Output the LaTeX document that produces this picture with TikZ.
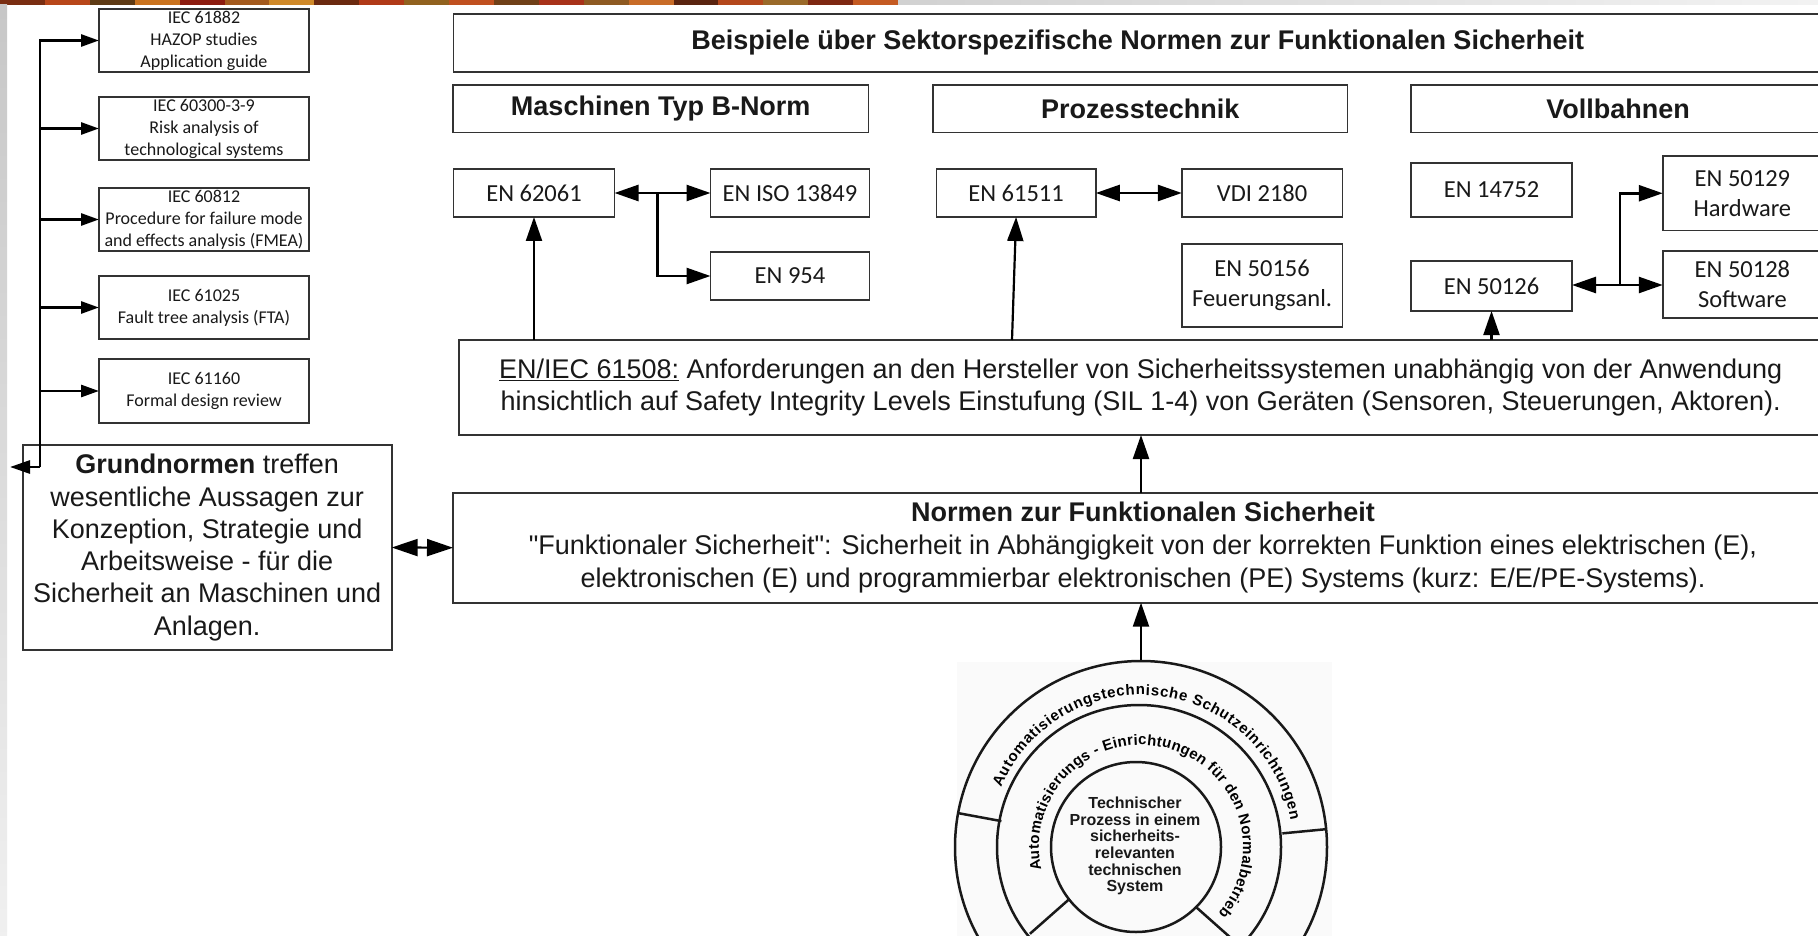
\documentclass[tikz,border=0pt]{standalone}
\usepackage{fontspec}
\setmainfont{Liberation Sans}[Ligatures=TeXOff]
\newfontfamily\carlito{Carlito}
\usetikzlibrary{arrows.meta,decorations.text,calc}

\newcommand\ringfont{\bfseries\fontsize{15}{15}\selectfont}

\tikzset{
  frame/.style={draw=black!80, line width=1.8pt, inner sep=0pt, outer sep=0pt, align=center, text=black!90},
  iecbox/.style={frame, font=\carlito\fontsize{18}{22}\selectfont, minimum width=210pt, minimum height=63pt},
  enbox/.style={frame, font=\carlito\fontsize{24.5}{30}\selectfont, minimum width=160pt, minimum height=48pt},
  headbox/.style={frame, font=\bfseries\fontsize{27}{31}\selectfont, minimum height=47.5pt},
  textbox/.style={frame, font=\fontsize{27}{31.5}\selectfont},
  conn/.style={line width=2.2pt, arrows={-Triangle[length=24pt,width=16pt]}},
  twoway/.style={line width=2.6pt, arrows={Triangle[length=24pt,width=16pt]-Triangle[length=24pt,width=16pt]}},
  iecconn/.style={line width=2.8pt, arrows={-Triangle[length=18pt,width=12pt]}},
  ring/.style={draw=black!90, line width=2.5pt},
}

\begin{document}
\begin{tikzpicture}[x=1pt,y=-1pt]
\useasboundingbox (0,0) rectangle (1818,936);
\clip (0,0) rectangle (1818,936);
\fill[white] (0,0) rectangle (1818,936);

% decorative top band and side strip
\foreach \c [count=\k from 0] in {7A2E12,B8471A,5E3A14,C9731F,8C1C10,A35A1E,D08A2A,6B2A10,B03A18,91621F,C05020,704018,A8321A,8E5A22,C86C28,5A2410,B4481C,9A6A2A,7E2812,C45A22}{
  \definecolor{bandc}{HTML}{\c}
  \fill[bandc] ({\k*44.9},0) rectangle ({(\k+1)*44.9+0.5},5);
}
\shade[left color=black!18, right color=black!5] (898,0) rectangle (1818,5);
\shade[top color=black!22, bottom color=black!6] (0,5) rectangle (7,936);

% basic standards (left column)
\node[iecbox] (iec1) at (204,40.5)  {IEC 61882\\HAZOP studies\\Application guide};
\node[iecbox] (iec2) at (204,128.5) {IEC 60300-3-9\\Risk analysis of\\technological systems};
\node[iecbox] (iec3) at (204,219.5) {IEC 60812\\Procedure for failure mode\\and effects analysis (FMEA)};
\node[iecbox] (iec4) at (204,307.5) {IEC 61025\\Fault tree analysis (FTA)};
\node[iecbox, minimum height=64pt] (iec5) at (204,391) {IEC 61160\\Formal design review};

\node[textbox, minimum width=369pt, minimum height=205pt, font=\fontsize{27}{32.3}\selectfont] (basic) at (207.2,547.5)
  {\textbf{Grundnormen} treffen\\wesentliche Aussagen zur\\Konzeption, Strategie und\\Arbeitsweise - für die\\Sicherheit an Maschinen und\\Anlagen.};

% sector specific standards
\node[headbox, minimum width=1368.6pt, minimum height=57.7pt] (sector) at (1137.7,42.85)
  {Beispiele über Sektorspezifische Normen zur Funktionalen Sicherheit};
\node[headbox, minimum width=415.5pt] (machines) at (660.75,108.75) {Maschinen Typ B-Norm};
\node[headbox, minimum width=414.5pt] (process) at (1140.25,108.75) {Prozesstechnik};
\node[headbox, minimum width=414pt] (rail) at (1618,108.75) {Vollbahnen};

\node[enbox, minimum width=161pt] (en62061) at (534,193) {EN 62061};
\node[enbox, minimum width=159pt] (en13849) at (790,193) {EN ISO 13849};
\node[enbox, minimum width=159pt] (en954) at (790,276) {EN 954};
\node[enbox, minimum width=159.4pt] (en61511) at (1016.1,193) {EN 61511};
\node[enbox, minimum width=160.6pt] (vdi) at (1262.1,193) {VDI 2180};
\node[enbox, minimum width=160.6pt, minimum height=83pt] (en50156) at (1262.1,285.5) {EN 50156\\Feuerungsanl.};
\node[enbox, minimum width=161pt, minimum height=54.6pt] (en14752) at (1491.5,190) {EN 14752};
\node[enbox, minimum width=161pt, minimum height=50pt] (en50126) at (1491.5,286) {EN 50126};
\node[enbox, minimum width=159.3pt, minimum height=74.5pt] (en50129) at (1742.4,193.25) {EN 50129\\Hardware};
\node[enbox, minimum width=159.3pt, minimum height=67.6pt] (en50128) at (1742.4,284.5) {EN 50128\\Software};

% generic standards
\node[textbox, minimum width=1362.7pt, minimum height=95pt] (iec61508) at (1140.7,387.5)
  {\underline{EN/IEC 61508:} Anforderungen an den Hersteller von Sicherheitssystemen unabhängig von der Anwendung\\
   hinsichtlich auf Safety Integrity Levels Einstufung (SIL 1-4) von Geräten (Sensoren, Steuerungen, Aktoren).};
\node[textbox, minimum width=1380pt, minimum height=110pt, font=\fontsize{27}{33}\selectfont] (fs) at (1143,547.7)
  {\textbf{Normen zur Funktionalen Sicherheit}\\
   "Funktionaler Sicherheit": Sicherheit in Abhängigkeit von der korrekten Funktion eines elektrischen (E),\\
   elektronischen (E) und programmierbar elektronischen (PE) Systems (kurz: E/E/PE-Systems).};

% layer model of the technical process
\fill[black!2] (956.7,661.7) rectangle (1331.7,936);
\node[circle, ring, minimum size=372pt, inner sep=0pt] (wheel) at (1141,847) {};
\begin{scope}[shift={(1141,847)}, y=1pt]
  \draw[ring] (-2,0) circle[radius=142];
  \draw[ring] (-5,0) circle[radius=85];
  \draw[ring] (169.5:142) -- (169.5:186);
  \draw[ring] (5.5:142) -- (5.5:186);
  \draw[ring] ($(-5,0)+(218:85)$) -- (218:141);
  \draw[ring] ($(-5,0)+(315:85)$) -- (315:141);
  \path[decorate, decoration={text along path, text align=fit to path,
      text={|\ringfont|Automatisierungstechnische Schutzeinrichtungen}}]
    (157:152) arc[start angle=157, end angle=10, radius=152];
  \path[decorate, decoration={text along path, text align=fit to path,
      text={|\ringfont|Automatisierungs - Einrichtungen für den Normalbetrieb}}]
    (193:102) arc[start angle=193, end angle=-41, radius=102];
\end{scope}
\node[align=center, font=\bfseries\fontsize{16}{16.6}\selectfont, text=black!90] (core) at (1135,846)
  {Technischer\\Prozess in einem\\sicherheits-\\relevanten\\technischen\\System};

% connectors
\coordinate (spineTop) at (40,40.5);
\coordinate (spineBot) at (40,467);
\coordinate (basicTip) at (10,467);
\foreach \n in {iec2,iec3,iec4,iec5}
  \draw[iecconn] (spineTop |- \n.west) -- (\n.west);
\draw[iecconn] (basicTip -| spineBot) -- (spineTop) -- (iec1.west);
\draw[iecconn, arrows={-Triangle[length=20pt,width=13pt]}] (spineBot) -- (basicTip);

\draw[twoway] (en62061.east) -- (en13849.west);
\coordinate (forkA) at (657.4,193);
\draw[conn, line width=2.6pt] (forkA) |- (en954.west);
\draw[conn] (en62061.south |- iec61508.north) -- (en62061.south);

\coordinate (upB) at (1012,340);
\draw[conn] (upB) -- (en61511.south);
\draw[twoway] (en61511.east) -- (vdi.west);

\coordinate (forkC) at (1620,285);
\draw[twoway] (en50126.east |- forkC) -- (forkC -| en50128.west);
\draw[conn, line width=2.6pt] (forkC) |- (en50129.west);
\draw[conn] (en50126.south |- iec61508.north) -- (en50126.south);

\draw[conn] (fs.north -| wheel.north) -- (iec61508.south -| wheel.north);
\draw[conn] (wheel.north) -- (fs.south -| wheel.north);
\draw[twoway, line width=2.2pt, arrows={Triangle[length=26pt,width=17pt]-Triangle[length=26pt,width=17pt]}] (basic.east) -- (fs.west);
\end{tikzpicture}
\end{document}
